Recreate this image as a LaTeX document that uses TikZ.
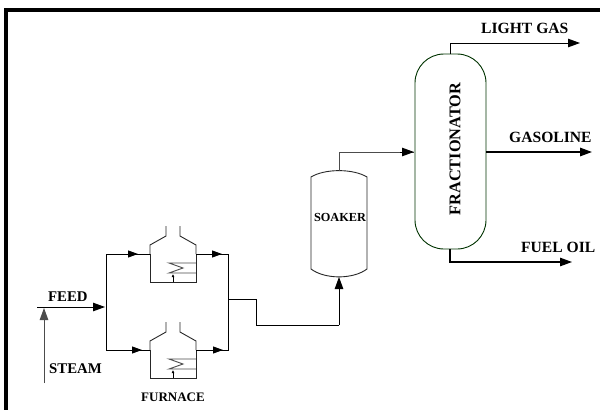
\documentclass[tikz,border=0pt]{standalone}
\usepackage{fontspec}
\setmainfont{Liberation Serif}
\usetikzlibrary{arrows.meta}
\tikzset{
  x=1pt,y=-1pt,
  tip/.style={-{Triangle[length=12pt,width=8.5pt]}},
  small tip/.style={-{Triangle[length=10pt,width=7pt]}},
  flow/.style={line width=0.9pt,tip},
  pipe/.style={line width=0.9pt},
  unit/.style={line width=0.9pt,draw=black!85},
  lab/.style={font=\bfseries\fontsize{15.6pt}{17pt}\selectfont,inner sep=0pt},
  labs/.style={font=\bfseries\fontsize{14.8pt}{17pt}\selectfont,inner sep=0pt},
  coil/.style={line width=0.9pt,draw=black!70}
}
\newcommand{\furn}[1]{%
  \begin{scope}[yshift=-#1pt]
    \draw[unit] (150,254) -- (150,245) -- (166,236) -- (166,226);
    \draw[unit] (196,254) -- (196,245) -- (180,236) -- (180,226);
    \draw[unit] (150,254) -- (150,282) -- (196,282) -- (196,254);
    \draw[coil] (196,263) -- (169,263) -- (183,268) -- (169,273) -- (196,273);
    \draw[line width=0.8pt,-{Latex[length=3pt,width=3pt]}] (173,282) -- (173,274);
  \end{scope}}
\begin{document}
\begin{tikzpicture}
\useasboundingbox (0,0) rectangle (600,410);
\fill[white] (0,0) rectangle (600,410);
\draw[line width=4pt] (600,10) -- (6,10) -- (6,410);
\furn{0}
\furn{96}
\node[labs,anchor=base west] (feed) at (48,301.5) {FEED};
\node[labs,anchor=base west] (steam) at (49,373) {STEAM};
\node[lab,font=\bfseries\fontsize{13pt}{15pt}\selectfont,anchor=base] (furnace) at (173,401) {FURNACE};
\coordinate (fi) at (37,307);
\coordinate (fe) at (105,307);
\coordinate (si) at (44,383);
\coordinate (se) at (44,308);
\draw[flow] (fi) -- (fe);
\draw[flow,draw=black!70,tip] (si) -- (se);
\draw[pipe] (150,254) -- (106,254) -- (106,350) -- (150,350);
\draw[pipe,small tip] (106,254) -- (138,254);
\draw[pipe,small tip] (106,350) -- (142,350);
\draw[pipe] (196,254) -- (228,254) -- (228,350) -- (196,350);
\draw[pipe,small tip] (196,254) -- (222,254);
\draw[pipe,small tip] (196,350) -- (223,350);
\draw[unit] (311,177) .. controls (325,168.5) and (353,168.5) .. (367,177) -- (367,269) .. controls (353,279.5) and (325,279.5) .. (311,269) -- cycle;
\node[lab,font=\bfseries\fontsize{12.3pt}{14pt}\selectfont] (soaker) at (340,217) {SOAKER};
\draw[pipe] (228,299) -- (256,299) -- (256,325) -- (339,325);
\draw[flow] (339,325) -- (339,277);
\draw[line width=0.9pt,draw=black!70] (339,171) -- (339,152) -- (414,152);
\draw[line width=0.9pt,tip] (400,152) -- (414,152);
\draw[line width=0.9pt,draw=black!60!green!50!black,rounded corners=29pt] (415,54) rectangle (486,249);
\node[lab,rotate=90,font=\bfseries\fontsize{16.3pt}{18pt}\selectfont] (frac) at (455,149) {FRACTIONATOR};
\draw[flow] (450,54) -- (450,43) -- (580,43);
\draw[flow,line width=1.4pt] (486,152) -- (592,152);
\draw[flow,line width=1.1pt] (450,249) -- (450,262) -- (572,262);
\node[lab,anchor=base west] (lg) at (481,33) {LIGHT GAS};
\node[lab,anchor=base west] (gas) at (509,142) {GASOLINE};
\node[lab,anchor=base west] (fo) at (521,252) {FUEL OIL};
\end{tikzpicture}
\end{document}
